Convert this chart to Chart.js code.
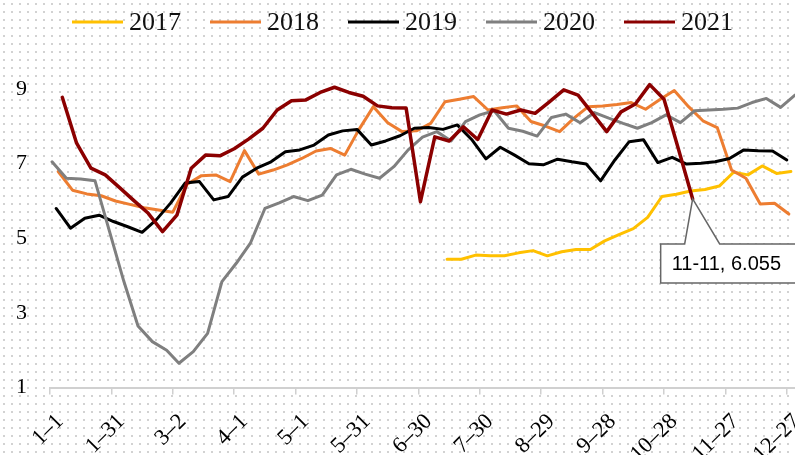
<!DOCTYPE html>
<html>
<head>
<meta charset="utf-8">
<script src="https://cdn.jsdelivr.net/npm/chart.js@4.4.1/dist/chart.umd.min.js"></script>
<style>
  html, body { margin: 0; padding: 0; }
  body {
    width: 795px; height: 455px; overflow: hidden;
    background-color: #fff;
    background-image: radial-gradient(circle at 4px 4px, #d2d2d2 0.8px, transparent 1.2px);
    background-size: 8px 8px;
  }
  canvas { display: block; }
</style>
</head>
<body>
<canvas id="week-chart" width="795" height="455"></canvas>
<script>

var seriesNames = ["2017", "2018", "2019", "2020", "2021"];
var seriesColors = ["#FFC000", "#ED7D31", "#000000", "#7F7F7F", "#8B0000"];

var dates2017 = ["7-14","7-21","7-28","8-4","8-11","8-18","8-25","9-1","9-8","9-15","9-22","9-29",
  "10-6","10-13","10-20","10-27","11-3","11-10","11-17","11-24","12-1","12-8","12-15","12-22","12-29"];
var values2017 = [4.44,4.44,4.55,4.53,4.53,4.61,4.67,4.53,4.64,4.70,4.70,4.93,
  5.10,5.26,5.56,6.12,6.18,6.27,6.31,6.40,6.77,6.70,6.94,6.74,6.79];

var dates2018 = ["1-5","1-12","1-19","1-26","2-2","2-9","2-16","2-23","3-2","3-9","3-16","3-23","3-30",
  "4-6","4-13","4-20","4-27","5-4","5-11","5-18","5-25","6-1","6-8","6-15","6-22","6-29",
  "7-6","7-13","7-20","7-27","8-3","8-10","8-17","8-24","8-31","9-7","9-14","9-21","9-28",
  "10-5","10-12","10-19","10-26","11-2","11-9","11-16","11-23","11-30","12-7","12-14","12-21","12-28"];
var values2018 = [6.79,6.29,6.19,6.14,6.00,5.91,5.82,5.76,5.70,6.45,6.68,6.70,6.52,
  7.35,6.72,6.83,6.97,7.14,7.34,7.41,7.23,7.92,8.53,8.10,7.86,7.88,
  8.08,8.66,8.73,8.80,8.44,8.50,8.55,8.13,8.01,7.86,8.22,8.53,8.55,
  8.59,8.64,8.46,8.72,8.96,8.53,8.15,7.97,6.83,6.61,5.92,5.94,5.65];

var dates2019 = ["1-4","1-11","1-18","1-25","2-1","2-8","2-15","2-22","3-1","3-8","3-15","3-22","3-29",
  "4-5","4-12","4-19","4-26","5-3","5-10","5-17","5-24","5-31","6-7","6-14","6-21","6-28",
  "7-5","7-12","7-19","7-26","8-2","8-9","8-16","8-23","8-30","9-6","9-13","9-20","9-27",
  "10-4","10-11","10-18","10-25","11-1","11-8","11-15","11-22","11-29","12-6","12-13","12-20","12-27"];
var values2019 = [5.80,5.27,5.54,5.62,5.45,5.31,5.16,5.50,5.95,6.48,6.52,6.03,6.12,
  6.64,6.88,7.05,7.32,7.37,7.50,7.77,7.88,7.92,7.50,7.61,7.75,7.95,
  7.97,7.92,8.04,7.65,7.13,7.44,7.23,7.00,6.97,7.12,7.05,6.99,6.54,
  7.10,7.59,7.64,7.03,7.17,6.99,7.01,7.05,7.14,7.37,7.35,7.34,7.10];

var dates2020 = ["1-2","1-9","1-16","1-23","1-30","2-6","2-13","2-20","2-27","3-5","3-12","3-19","3-26",
  "4-2","4-9","4-16","4-23","4-30","5-7","5-14","5-21","5-28","6-4","6-11","6-18","6-25",
  "7-2","7-9","7-16","7-23","7-30","8-6","8-13","8-20","8-27","9-3","9-10","9-17","9-24",
  "10-1","10-8","10-15","10-22","10-29","11-5","11-12","11-19","11-26","12-3","12-10","12-17","12-24","12-31"];
var values2020 = [7.05,6.61,6.59,6.54,5.20,3.86,2.65,2.23,2.00,1.65,1.96,2.45,3.84,
  4.33,4.88,5.80,5.95,6.12,6.01,6.16,6.70,6.85,6.72,6.61,6.92,7.37,
  7.71,7.86,7.61,8.13,8.31,8.42,7.95,7.87,7.74,8.24,8.33,8.10,8.37,
  8.22,8.08,7.95,8.10,8.31,8.10,8.42,8.44,8.46,8.49,8.64,8.75,8.51,8.84];

var dates2021 = ["1-7","1-14","1-21","1-28","2-4","2-11","2-18","2-25","3-4","3-11","3-18","3-25",
  "4-1","4-8","4-15","4-22","4-29","5-6","5-13","5-20","5-27","6-3","6-10","6-17","6-24",
  "7-1","7-8","7-15","7-22","7-29","8-5","8-12","8-19","8-26","9-2","9-9","9-16","9-23","9-30",
  "10-7","10-14","10-21","10-28","11-4","11-11"];
var values2021 = [8.78,7.55,6.88,6.70,6.36,6.01,5.67,5.18,5.62,6.88,7.23,7.21,
  7.40,7.66,7.95,8.44,8.69,8.71,8.91,9.05,8.91,8.81,8.55,8.50,8.49,
  5.98,7.72,7.61,7.99,7.65,8.44,8.33,8.44,8.35,8.66,8.98,8.84,8.35,7.86,
  8.39,8.60,9.12,8.73,7.40,6.055];

var yTicks = [1, 3, 5, 7, 9];

var allDates = [dates2017, dates2018, dates2019, dates2020, dates2021];
var allValues = [values2017, values2018, values2019, values2020, values2021];

// month-day -> day of year (x axis runs over one non-leap year)
function dayOfYear(s){
    var p = s.split("-");
    return (Date.UTC(2021, +p[0] - 1, +p[1]) - Date.UTC(2021, 0, 1)) / 86400000;
}

function dayLabel(v){
    var d = new Date(Date.UTC(2021, 0, 1 + v));
    return (d.getUTCMonth() + 1) + "\u2013" + d.getUTCDate();
}

var datasets = [];
for (var i = 0; i < seriesNames.length; i++){
    var pts = [];
    for (var j = 0; j < allDates[i].length; j++){
        pts.push({x: dayOfYear(allDates[i][j]), y: allValues[i][j]});
    }
    datasets.push({
        label: seriesNames[i],
        data: pts,
        borderColor: seriesColors[i],
        backgroundColor: seriesColors[i],
        borderWidth: i == 4 ? 3.5 : 3,
        borderJoinStyle: "round",
        borderCapStyle: "round",
        pointRadius: 0,
        fill: false,
        tension: 0,
        order: seriesNames.length - i
    });
}

var legendPlugin = {
    id: "lineLegend",
    afterDraw: function(chart){
        var ctx = chart.ctx;
        ctx.save();
        ctx.font = '26px "Liberation Serif"';
        ctx.textBaseline = "middle";
        for (var i = 0; i < chart.data.datasets.length; i++){
            var ds = chart.data.datasets[i];
            var x0 = 72 + i * 138;
            ctx.strokeStyle = ds.borderColor;
            ctx.lineWidth = 3;
            ctx.beginPath();
            ctx.moveTo(x0, 22);
            ctx.lineTo(x0 + 51, 22);
            ctx.stroke();
            ctx.fillStyle = "#111";
            ctx.fillText(ds.label, x0 + 57, 23);
        }
        ctx.restore();
    }
};

var calloutPlugin = {
    id: "lastPointCallout",
    afterDatasetsDraw: function(chart){
        var meta = chart.getDatasetMeta(4);
        var pt = meta.data[meta.data.length - 1];
        var px = pt.x, py = pt.y;
        var text = dates2021[dates2021.length - 1] + ", " + values2021[values2021.length - 1];
        var bx = px - 32, by = py + 45, bw = 145, bh = 39;
        var ctx = chart.ctx;
        ctx.save();
        ctx.beginPath();
        ctx.moveTo(bx, by);
        ctx.lineTo(px - 8, by);
        ctx.lineTo(px, py);
        ctx.lineTo(px + 27, by);
        ctx.lineTo(bx + bw, by);
        ctx.lineTo(bx + bw, by + bh);
        ctx.lineTo(bx, by + bh);
        ctx.closePath();
        ctx.fillStyle = "#fff";
        ctx.fill();
        ctx.strokeStyle = "#666";
        ctx.lineWidth = 1.5;
        ctx.stroke();
        ctx.fillStyle = "#000";
        ctx.font = '20px "Liberation Sans"';
        ctx.textBaseline = "middle";
        ctx.fillText(text, bx + 11, by + bh / 2 + 1);
        ctx.restore();
    }
};

var chart = new Chart(document.getElementById("week-chart"), {
    type: "line",
    data: { datasets: datasets },
    options: {
        responsive: false,
        animation: false,
        layout: { padding: { top: 14.5, left: 0, right: 0, bottom: 0 } },
        plugins: {
            legend: { display: false },
            tooltip: { enabled: false }
        },
        scales: {
            x: {
                type: "linear",
                min: 0,
                max: 364,
                ticks: {
                    stepSize: 30,
                    includeBounds: false,
                    autoSkip: false,
                    maxRotation: 45,
                    minRotation: 45,
                    labelOffset: 10,
                    padding: 14,
                    color: "#000",
                    font: { family: "Liberation Serif", size: 22.5 },
                    callback: function(v){ return dayLabel(v); }
                },
                grid: { drawOnChartArea: false, drawTicks: true, tickLength: 7, color: "#d0d0d0", lineWidth: 1.5 },
                border: { display: true, color: "#d0d0d0", width: 2 },
                afterFit: function(s){ s.height = 67.5; s.paddingLeft = 0; s.paddingRight = 0; }
            },
            y: {
                min: 1,
                max: 11,
                afterBuildTicks: function(s){ s.ticks = yTicks.map(function(v){ return {value: v}; }); },
                ticks: {
                    padding: 23,
                    color: "#000",
                    font: { family: "Liberation Serif", size: 22 }
                },
                grid: { display: false, drawTicks: false },
                border: { display: false },
                afterFit: function(s){ s.width = 50; s.paddingTop = 0; s.paddingBottom = 0; }
            }
        }
    },
    plugins: [legendPlugin, calloutPlugin]
});

</script>
</body>
</html>
